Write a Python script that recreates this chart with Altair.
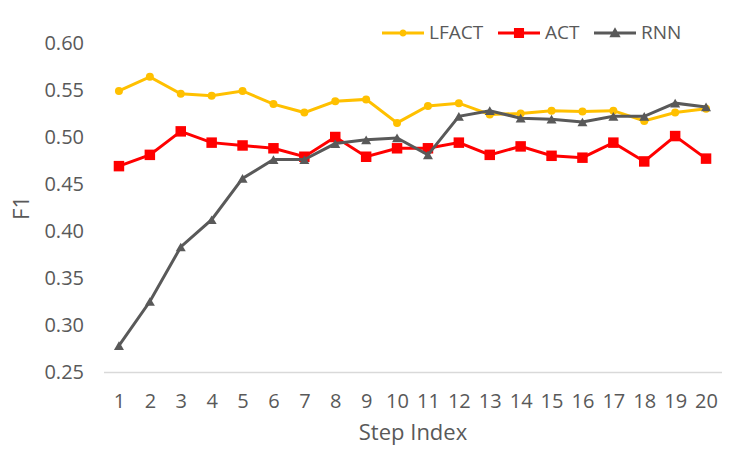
import altair as alt
import pandas as pd

# ---------------- data ----------------
steps = list(range(1, 21))
lfact = [0.549, 0.564, 0.546, 0.544, 0.549, 0.535, 0.526, 0.538, 0.540, 0.515,
         0.533, 0.536, 0.524, 0.525, 0.528, 0.527, 0.528, 0.517, 0.526, 0.530]
act = [0.469, 0.481, 0.506, 0.494, 0.491, 0.488, 0.479, 0.500, 0.479, 0.488,
       0.488, 0.494, 0.481, 0.490, 0.480, 0.478, 0.494, 0.474, 0.501, 0.477]
rnn = [0.278, 0.325, 0.383, 0.412, 0.456, 0.476, 0.476, 0.493, 0.497, 0.499,
       0.481, 0.522, 0.528, 0.520, 0.519, 0.516, 0.522, 0.522, 0.536, 0.532]
y_ticks = [0.25, 0.30, 0.35, 0.40, 0.45, 0.50, 0.55, 0.60]

series_names = ["LFACT", "ACT", "RNN"]
series_colors = ["#FFC000", "#FF0000", "#595959"]
marker_shapes = ["circle", "square", "triangle-up"]
marker_sizes = [64, 110, 100]
legend_paths = [
    "M-1,-0.07H1V0.07H-1Z M-0.17,0A0.17,0.17 0 1,1 0.17,0A0.17,0.17 0 1,1 -0.17,0Z",
    "M-1,-0.07H1V0.07H-1Z M-0.24,-0.24H0.24V0.24H-0.24Z",
    "M-1,-0.07H1V0.07H-1Z M0,-0.27L0.27,0.2H-0.27Z",
]

rows = []
for name, vals in zip(series_names, [lfact, act, rnn]):
    for s, v in zip(steps, vals):
        rows.append({"step": s, "f1": v, "series": name})
df = pd.DataFrame(rows)

FONT = "Open Sans"
TEXT = "#595959"

x_enc = alt.X(
    "step:Q",
    scale=alt.Scale(domain=[0.5, 20.5], nice=False, zero=False),
    axis=alt.Axis(
        values=steps, format="d", title="Step Index", grid=False, ticks=False, tickSize=0,
        domainColor="#D9D9D9", domainWidth=1.5, labelPadding=19, labelFlush=False,
        labelOverlap=False, labelFont=FONT, labelFontSize=20, labelColor=TEXT,
        titleFont=FONT, titleFontSize=22, titleColor=TEXT, titleFontWeight="normal",
        titleY=67, titleBaseline="alphabetic",
    ),
)
y_enc = alt.Y(
    "f1:Q",
    scale=alt.Scale(domain=[0.25, 0.60], nice=False, zero=False),
    axis=alt.Axis(
        values=y_ticks, format=".2f", title="F1", grid=False, domain=False, ticks=False,
        tickSize=0, labelPadding=20, labelFont=FONT, labelFontSize=20, labelColor=TEXT,
        titleFont=FONT, titleFontSize=22, titleColor=TEXT, titleFontWeight="normal",
        titleAngle=-90, titleX=-75.5, titleY=164.5, titleBaseline="alphabetic",
        titleAlign="center",
    ),
)

base = alt.Chart(df)
layers = []
for name, col, shp, sz in zip(series_names, series_colors, marker_shapes, marker_sizes):
    sub = base.transform_filter(alt.datum.series == name)
    layers.append(sub.mark_line(color=col, strokeWidth=3).encode(x=x_enc, y=y_enc))
    layers.append(sub.mark_point(shape=shp, size=sz, filled=True, opacity=1, color=col)
                  .encode(x=x_enc, y=y_enc))

leg = alt.Legend(
    orient="none", legendX=278.5, legendY=-31, direction="horizontal", columns=3,
    title=None, padding=0, symbolSize=1764, symbolStrokeWidth=0, symbolOpacity=1,
    labelFont=FONT, labelFontSize=19, labelColor=TEXT, labelOffset=5, columnPadding=14,
)
legend_layer = base.transform_filter("datum.step < 0").mark_point(filled=True, opacity=1).encode(
    x=x_enc, y=y_enc,
    color=alt.Color("series:N", scale=alt.Scale(domain=series_names, range=series_colors), legend=leg),
    shape=alt.Shape("series:N", scale=alt.Scale(domain=series_names, range=legend_paths), legend=leg),
)

chart = alt.layer(legend_layer, *layers).properties(
    width=618, height=329,
    autosize=alt.AutoSizeParams(type="none"),
    padding={"left": 103.5, "top": 43, "right": 26.5, "bottom": 78},
    background="white",
).configure_view(strokeWidth=0)

chart.save("out.html", embed_options={"renderer": "svg", "actions": False})
